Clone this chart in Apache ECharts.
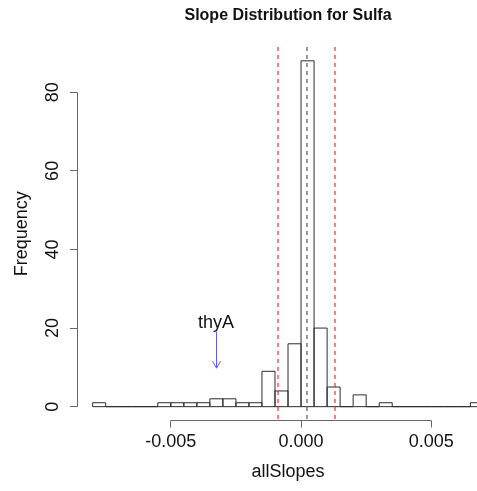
<!DOCTYPE html>
<html><head><meta charset="utf-8">
<script src="https://cdn.jsdelivr.net/npm/echarts@6/dist/echarts.min.js"></script>
<style>html,body{margin:0;padding:0;background:#fff}#c{width:477px;height:491px}</style>
</head><body><div id="c"></div>
<script>
// ---- data ----
const chartTitle = 'Slope Distribution for Sulfa';
const xName = 'allSlopes';
const yName = 'Frequency';
const binLeft  = [-0.008,-0.0075,-0.007,-0.0065,-0.006,-0.0055,-0.005,-0.0045,-0.004,-0.0035,-0.003,-0.0025,-0.002,-0.0015,-0.001,-0.0005,0,0.0005,0.001,0.0015,0.002,0.0025,0.003,0.0035,0.004,0.0045,0.005,0.0055,0.006,0.0065];
const binRight = [-0.0075,-0.007,-0.0065,-0.006,-0.0055,-0.005,-0.0045,-0.004,-0.0035,-0.003,-0.0025,-0.002,-0.0015,-0.001,-0.0005,0,0.0005,0.001,0.0015,0.002,0.0025,0.003,0.0035,0.004,0.0045,0.005,0.0055,0.006,0.0065,0.007];
const counts   = [1,0,0,0,0,1,1,1,1,2,2,1,1,9,4,16,88,20,5,0,3,0,1,0,0,0,0,0,0,1];
const xTicks = [-0.005, 0, 0.005];
const xTickLabels = ['-0.005', '0.000', '0.005'];
const yTicks = [0, 20, 40, 60, 80];
const yTickLabels = ['0', '20', '40', '60', '80'];
const meanLines = [0.00022];
const boundLines = [-0.00088, 0.00132];
const annotLabel = ['thyA'];
const annotX = [-0.00326];
const annotTextY = [21.4];
const annotArrowFrom = [19];
const annotArrowTo = [9.8];

// ---- chart ----
const FONT = '"Liberation Sans", Arial, Helvetica, sans-serif';
// plotting region (R usr): -0.0086 .. 0.0076, the picture is cut at the right edge
const X_MIN = -0.0086, X_MAX = 0.006754, X_REGION_MAX = 0.0076, Y_MIN = -3.52, Y_MAX = 91.52;
const chart = echarts.init(document.getElementById('c'), null, {renderer: 'canvas'});

const barData = binLeft.map((l, i) => [l, binRight[i], counts[i]]);
const snap = v => Math.round(v - 0.5) + 0.5;

function renderBar(params, api) {
  const p0 = api.coord([api.value(0), api.value(2)]);
  const p1 = api.coord([api.value(1), 0]);
  return {
    type: 'rect',
    shape: {x: p0[0], y: p0[1], width: p1[0] - p0[0], height: p1[1] - p0[1]},
    style: {fill: 'none', stroke: '#2b2b2b', lineWidth: 1}
  };
}

function makeVLine(color, width) {
  return function (params, api) {
    const a = api.coord([api.value(0), Y_MAX]), b = api.coord([api.value(0), Y_MIN]);
    const x = Math.round(a[0]);
    return {type: 'line', shape: {x1: x, y1: a[1], x2: x, y2: b[1]}, style: {stroke: color, lineWidth: width, lineDash: [4, 4]}};
  };
}

function renderDecor(params, api) {
  const children = [];
  const axisColor = '#666';
  // x axis
  const xa = api.coord([xTicks[0], Y_MIN]);
  const xb = api.coord([xTicks[xTicks.length - 1], Y_MIN]);
  children.push({type: 'line', shape: {x1: xa[0], y1: snap(xa[1]), x2: xb[0], y2: snap(xb[1])}, style: {stroke: axisColor, lineWidth: 1}});
  xTicks.forEach((t, i) => {
    const p = api.coord([t, Y_MIN]);
    children.push({type: 'line', shape: {x1: snap(p[0]), y1: p[1], x2: snap(p[0]), y2: p[1] + 7}, style: {stroke: axisColor, lineWidth: 1}});
    children.push({type: 'text', x: p[0], y: 442, style: {text: xTickLabels[i], font: '18px ' + FONT, fill: '#111', align: 'center', verticalAlign: 'middle'}});
  });
  // y axis
  const ya = api.coord([X_MIN, yTicks[0]]);
  const yb = api.coord([X_MIN, yTicks[yTicks.length - 1]]);
  children.push({type: 'line', shape: {x1: snap(ya[0]), y1: ya[1], x2: snap(yb[0]), y2: yb[1]}, style: {stroke: axisColor, lineWidth: 1}});
  yTicks.forEach((t, i) => {
    const p = api.coord([X_MIN, t]);
    children.push({type: 'line', shape: {x1: p[0] - 7, y1: snap(p[1]), x2: p[0], y2: snap(p[1])}, style: {stroke: axisColor, lineWidth: 1}});
    children.push({type: 'text', x: 53.5, y: p[1], rotation: Math.PI / 2, style: {text: yTickLabels[i], font: '18px ' + FONT, fill: '#111', align: 'center', verticalAlign: 'middle'}});
  });
  // axis names and title
  const mid = api.coord([(X_MIN + X_REGION_MAX) / 2, (Y_MIN + Y_MAX) / 2]);
  children.push({type: 'text', x: mid[0], y: 472, style: {text: xName, font: '18px ' + FONT, fill: '#111', align: 'center', verticalAlign: 'middle'}});
  children.push({type: 'text', x: 22, y: mid[1], rotation: Math.PI / 2, style: {text: yName, font: '18px ' + FONT, fill: '#111', align: 'center', verticalAlign: 'middle'}});
  children.push({type: 'text', x: mid[0], y: 16, style: {text: chartTitle, font: 'bold 16px ' + FONT, fill: '#111', align: 'center', verticalAlign: 'middle'}});
  // annotation
  annotLabel.forEach((lab, i) => {
    const tp = api.coord([annotX[i], annotTextY[i]]);
    children.push({type: 'text', x: tp[0], y: tp[1], style: {text: lab, font: '18px ' + FONT, fill: '#111', align: 'center', verticalAlign: 'middle'}});
    const a = api.coord([annotX[i], annotArrowFrom[i]]);
    const b = api.coord([annotX[i], annotArrowTo[i]]);
    const col = '#5a5aff';
    const ax = snap(a[0]);
    children.push({type: 'line', shape: {x1: ax, y1: a[1], x2: ax, y2: b[1]}, style: {stroke: col, lineWidth: 1}});
    children.push({type: 'polyline', shape: {points: [[ax - 4, b[1] - 7], [ax, b[1]], [ax + 4, b[1] - 7]]}, style: {stroke: col, fill: 'none', lineWidth: 1}});
  });
  return {type: 'group', children};
}

chart.setOption({
  animation: false,
  backgroundColor: '#fff',
  grid: {left: 77, top: 47, right: 0, height: 373.5, show: false},
  xAxis: {type: 'value', min: X_MIN, max: X_MAX, show: false},
  yAxis: {type: 'value', min: Y_MIN, max: Y_MAX, show: false},
  series: [
    {type: 'custom', data: barData, renderItem: renderBar, clip: false, silent: true},
    {type: 'custom', data: [[0, 0]], renderItem: renderDecor, clip: false, silent: true},
    {type: 'custom', data: boundLines.map(v => [v]), renderItem: makeVLine('#ff0000', 1), clip: false, silent: true},
    {type: 'custom', data: meanLines.map(v => [v]), renderItem: makeVLine('#333333', 1), clip: false, silent: true}
  ]
});
</script>
</body></html>
